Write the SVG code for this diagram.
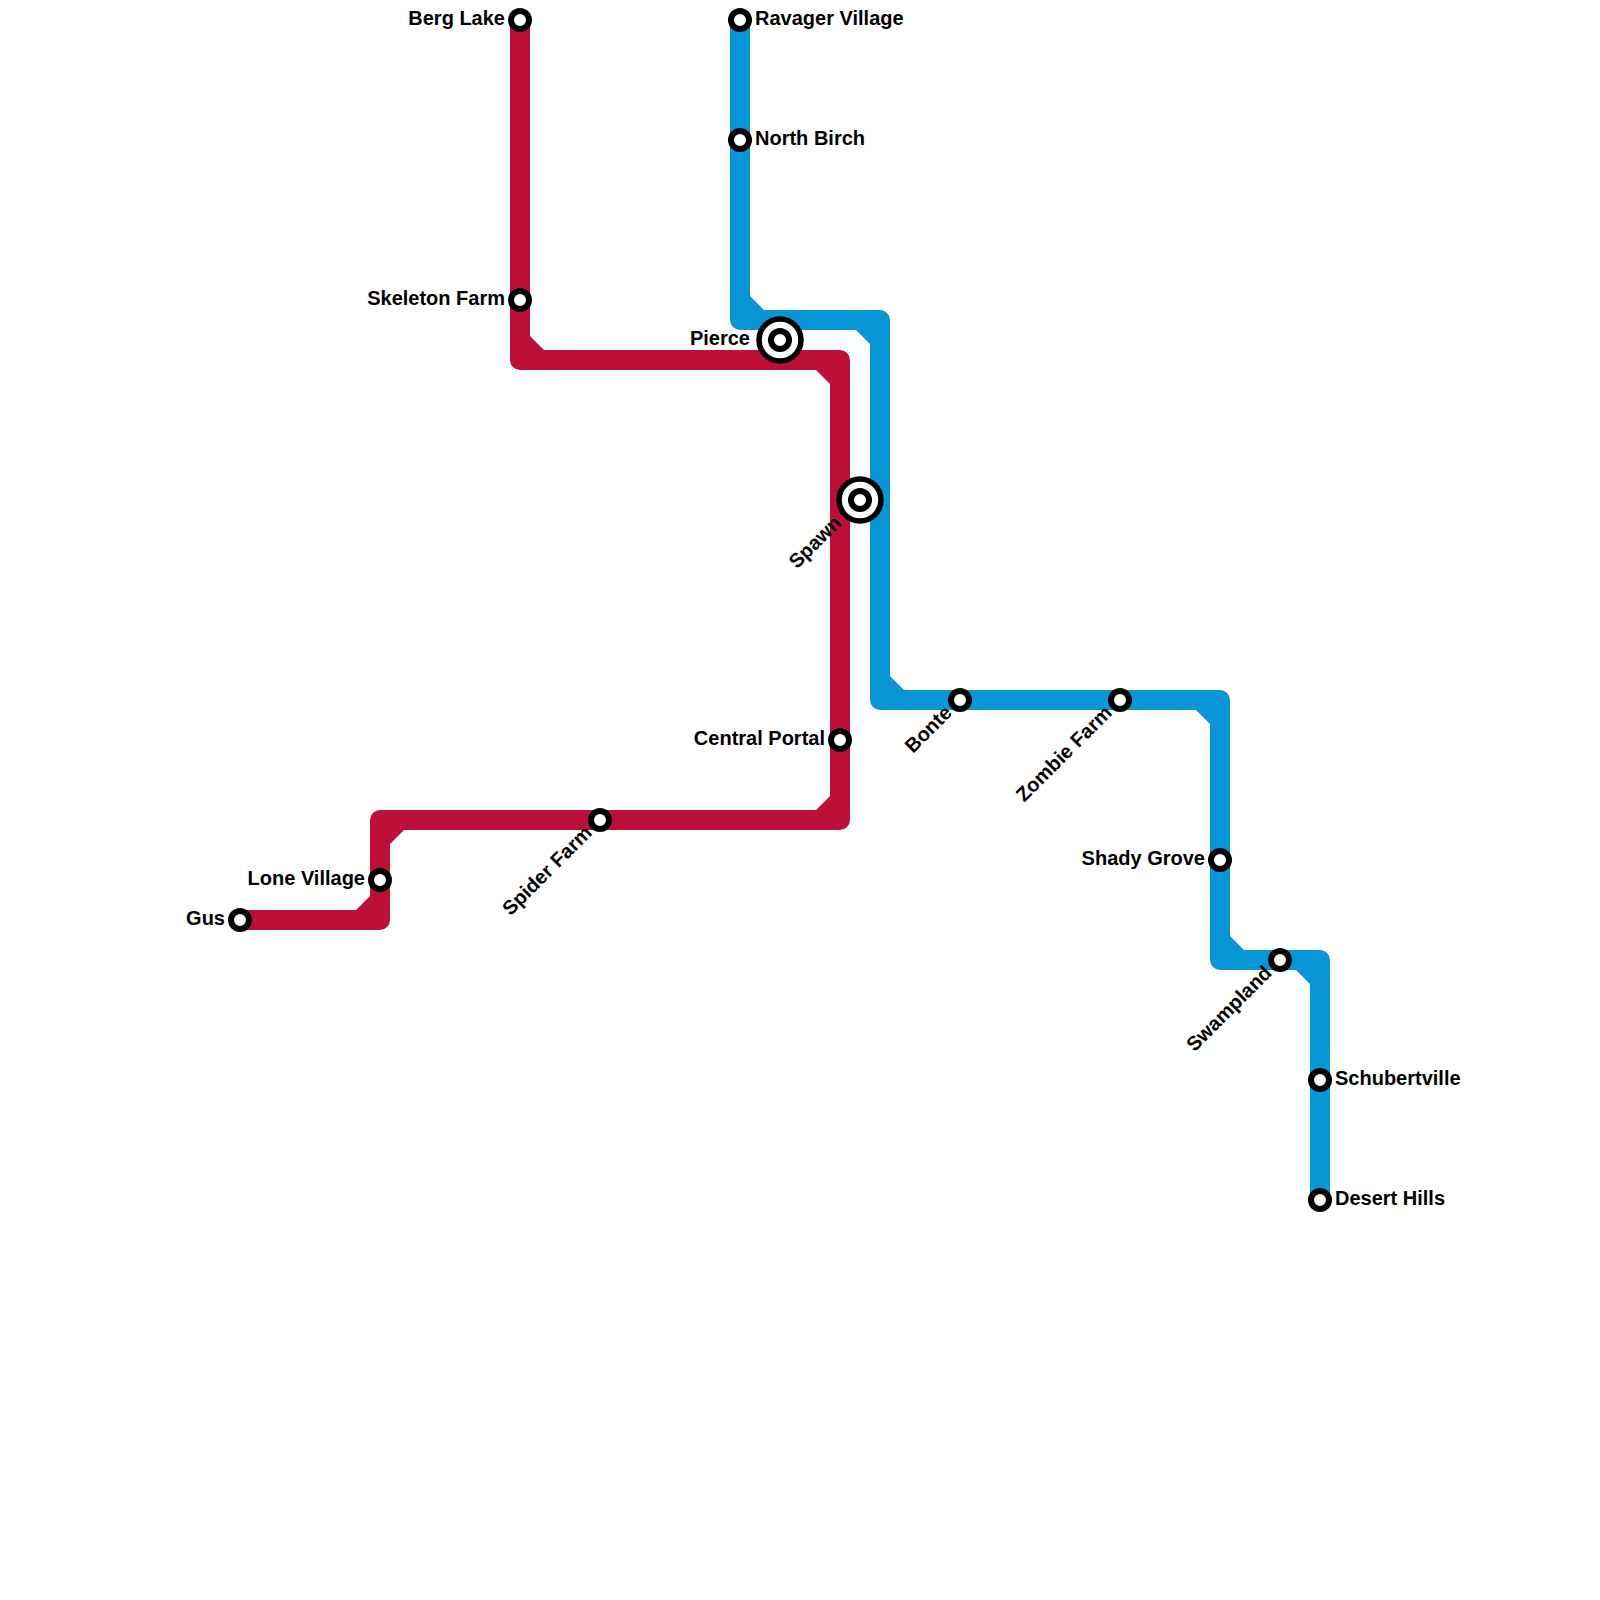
<svg xmlns="http://www.w3.org/2000/svg" width="1600" height="1600" viewBox="0 0 1600 1600">
<style>
.line{fill:none;stroke-width:20;stroke-linejoin:round}
.red{stroke:#bd1038}.blue{stroke:#0896d7}
.redf{fill:#bd1038}.bluef{fill:#0896d7}
.st{fill:#fff;stroke:#000;stroke-width:6}
.ring{fill:#fff;stroke:#000;stroke-width:5.5}
text{font-family:"Liberation Sans",Arial,sans-serif;font-weight:700;font-size:20px;fill:#000}
.e{text-anchor:end}
</style>
<rect width="1600" height="1600" fill="#fff"/>
<g id="connectors">
<path class="line red" d="M520 20V360H840V820H380V920H240"/>
<path class="redf" d="M530 336L544 350H530ZM816 370L830 384V370ZM830 796L816 810H830ZM390 844L404 830H390ZM370 896L356 910H370Z"/>
<path class="line blue" d="M740 20V320H880V700H1220V960H1320V1200"/>
<path class="bluef" d="M750 296L764 310H750ZM856 330L870 344V330ZM890 676L904 690H890ZM1196 710L1210 724V710ZM1230 936L1244 950H1230ZM1296 970L1310 984V970Z"/>
</g>
<g id="berg-lake"><circle class="st" cx="520" cy="20" r="9"/><text class="e" x="505" y="25">Berg Lake</text></g>
<g id="skeleton-farm"><circle class="st" cx="520" cy="300" r="9"/><text class="e" x="505" y="305">Skeleton Farm</text></g>
<g id="ravager-village"><circle class="st" cx="740" cy="20" r="9"/><text x="755" y="25">Ravager Village</text></g>
<g id="north-birch"><circle class="st" cx="740" cy="140" r="9"/><text x="755" y="145">North Birch</text></g>
<g id="pierce"><circle class="ring" cx="780" cy="340" r="21"/><circle class="st" cx="780" cy="340" r="9"/><text class="e" x="750" y="345">Pierce</text></g>
<g id="spawn"><circle class="ring" cx="860" cy="500" r="21"/><circle class="st" cx="860" cy="500" r="9"/><text class="e" transform="translate(842.5 524) rotate(-45)">Spawn</text></g>
<g id="central-portal"><circle class="st" cx="840" cy="740" r="9"/><text class="e" x="825" y="745">Central Portal</text></g>
<g id="spider-farm"><circle class="st" cx="600" cy="820" r="9"/><text class="e" transform="translate(593 834) rotate(-45)">Spider Farm</text></g>
<g id="lone-village"><circle class="st" cx="380" cy="880" r="9"/><text class="e" x="365" y="885">Lone Village</text></g>
<g id="gus"><circle class="st" cx="240" cy="920" r="9"/><text class="e" x="225" y="925">Gus</text></g>
<g id="bonte"><circle class="st" cx="960" cy="700" r="9"/><text class="e" transform="translate(953 714) rotate(-45)">Bonte</text></g>
<g id="zombie-farm"><circle class="st" cx="1120" cy="700" r="9"/><text class="e" transform="translate(1113 714) rotate(-45)">Zombie Farm</text></g>
<g id="shady-grove"><circle class="st" cx="1220" cy="860" r="9"/><text class="e" x="1205" y="865">Shady Grove</text></g>
<g id="swampland"><circle class="st" cx="1280" cy="960" r="9"/><text class="e" transform="translate(1273 974) rotate(-45)">Swampland</text></g>
<g id="schubertville"><circle class="st" cx="1320" cy="1080" r="9"/><text x="1335" y="1085">Schubertville</text></g>
<g id="desert-hills"><circle class="st" cx="1320" cy="1200" r="9"/><text x="1335" y="1205">Desert Hills</text></g>
</svg>
